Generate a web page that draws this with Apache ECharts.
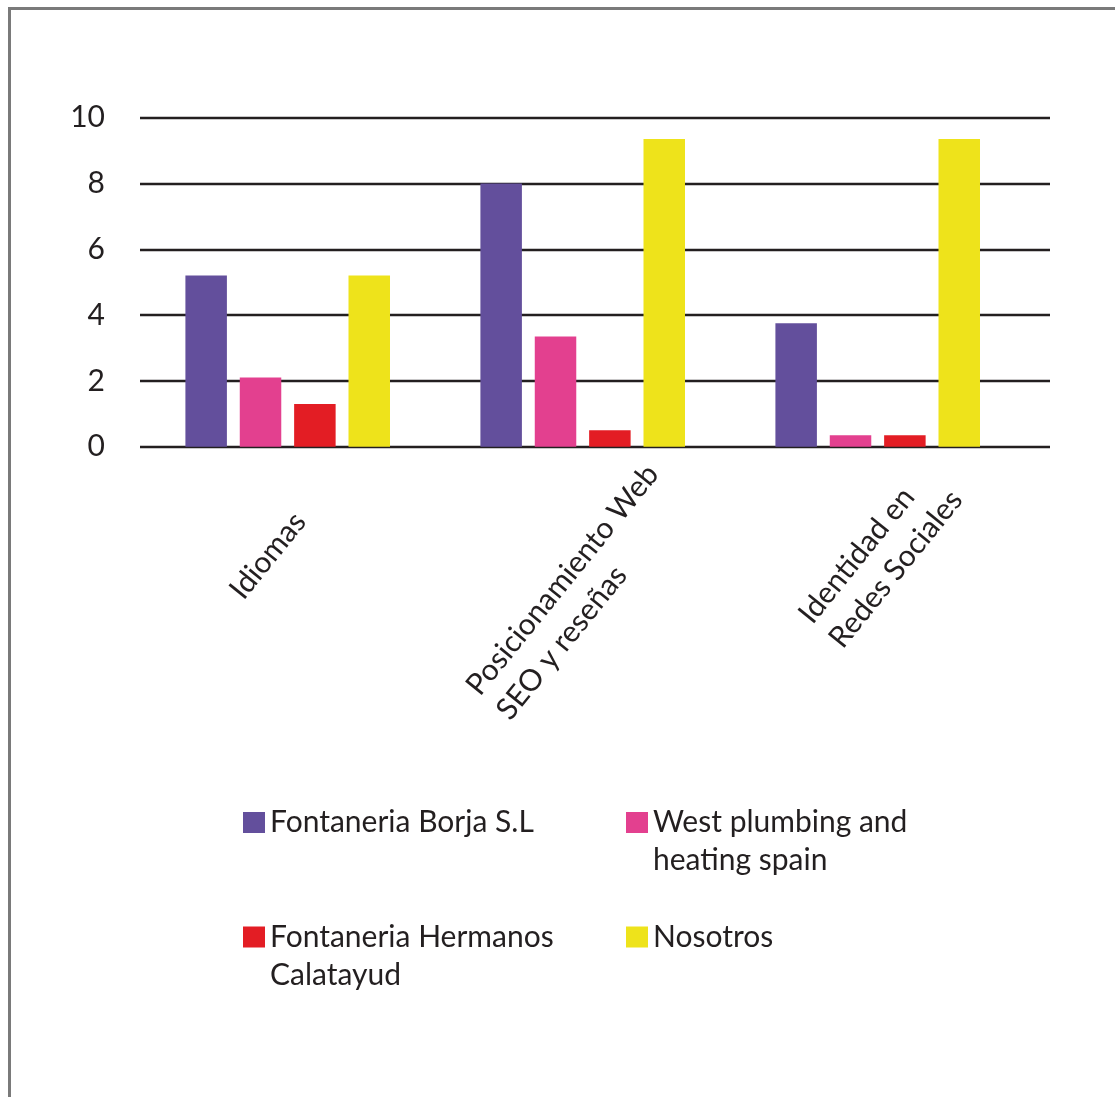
<!DOCTYPE html>
<html>
<head>
<meta charset="utf-8">
<script src="https://cdn.jsdelivr.net/npm/echarts@6/dist/echarts.min.js"></script>
<style>
html, body { margin: 0; padding: 0; background: #ffffff; }
#chart { position: absolute; left: 0; top: 0; width: 1115px; height: 1097px; }
#frame { position: absolute; left: 8px; top: 7px; right: -10px; bottom: -10px; border-top: 3px solid #7a7a7a; border-left: 3px solid #7a7a7a; pointer-events: none; }
</style>
</head>
<body>
<div id="chart"></div>
<div id="frame"></div>
<script>
// ---- data ----
const categories = ['Idiomas', 'Posicionamiento Web\nSEO y reseñas', 'Identidad en\nRedes Sociales'];
const seriesNames = ['Fontaneria Borja S.L', 'West plumbing and heating spain', 'Fontaneria Hermanos Calatayud', 'Nosotros'];
const legendLabels = ['Fontaneria Borja S.L', 'West plumbing and\nheating spain', 'Fontaneria Hermanos\nCalatayud', 'Nosotros'];
const borjaValues = [5.2, 8.0, 3.75];
const westValues = [2.1, 3.35, 0.35];
const hermanosValues = [1.3, 0.5, 0.35];
const nosotrosValues = [5.2, 9.35, 9.35];
const yMin = 0, yMax = 10, yStep = 2;

// ---- styles ----
const colors = ['#634f9c', '#e3408f', '#e31d24', '#eee31b'];
const textColor = '#231f20';
const fontFamily = 'Lato';
const labelPads = [[0, 0, 51, 0], [18, 38, 0, 0], [0, 0, 14, 27]];
const legendPos = [[243, 803.5], [626, 765.5], [243, 880], [626, 918]];

const allValues = [borjaValues, westValues, hermanosValues, nosotrosValues];

const chart = echarts.init(document.getElementById('chart'), null, { renderer: 'canvas' });

const gridTop = 117.7, gridHeight = 329;

const option = {
  animation: false,
  backgroundColor: 'transparent',
  grid: [
    { left: 140, width: 910, top: gridTop, height: gridHeight, outerBoundsMode: 'none', containLabel: false },
    { left: 140.2, width: 885, top: gridTop, height: gridHeight, outerBoundsMode: 'none', containLabel: false }
  ],
  xAxis: [
    { gridIndex: 0, type: 'value', show: false, min: 0, max: 1 },
    {
      gridIndex: 1, type: 'category',
      data: categories.map((c, i) => ({
        value: c,
        textStyle: { padding: labelPads[i], align: 'center', verticalAlign: 'middle' }
      })),
      axisLine: { show: false }, axisTick: { show: false }, splitLine: { show: false },
      axisLabel: {
        interval: 0, rotate: 51, align: 'center', verticalAlign: 'middle', margin: 125,
        hideOverlap: false,
        formatter: v => v.split('\n').map(l => '{l|' + l + '}').join('\n'),
        rich: { l: { align: 'left', fontFamily: fontFamily, fontSize: 30, lineHeight: 39, color: textColor } }
      }
    }
  ],
  yAxis: [
    {
      gridIndex: 0, type: 'value', min: yMin, max: yMax, interval: yStep,
      axisLine: { show: false }, axisTick: { show: false },
      splitLine: { show: true, lineStyle: { color: textColor, width: 2.4 } },
      axisLabel: { margin: 35, fontFamily: fontFamily, fontSize: 30, color: textColor }
    },
    {
      gridIndex: 1, type: 'value', min: yMin, max: yMax, interval: yStep, show: false,
      splitLine: { show: false }
    }
  ],
  legend: seriesNames.map((n, i) => ({
    data: [n],
    left: legendPos[i][0], top: legendPos[i][1],
    padding: 0, itemWidth: 22, itemHeight: 21, icon: 'rect', selectedMode: false,
    formatter: () => (legendLabels[i].indexOf('\n') >= 0 ? '\n' : '') + legendLabels[i],
    textStyle: { fontFamily: fontFamily, fontSize: 30, lineHeight: 38, color: textColor }
  })),
  series: seriesNames.map((n, i) => ({
    name: n, type: 'bar', xAxisIndex: 1, yAxisIndex: 1,
    data: allValues[i], barWidth: 41.5, barGap: '31%',
    itemStyle: { color: colors[i] }
  }))
};

chart.setOption(option);
</script>
</body>
</html>
